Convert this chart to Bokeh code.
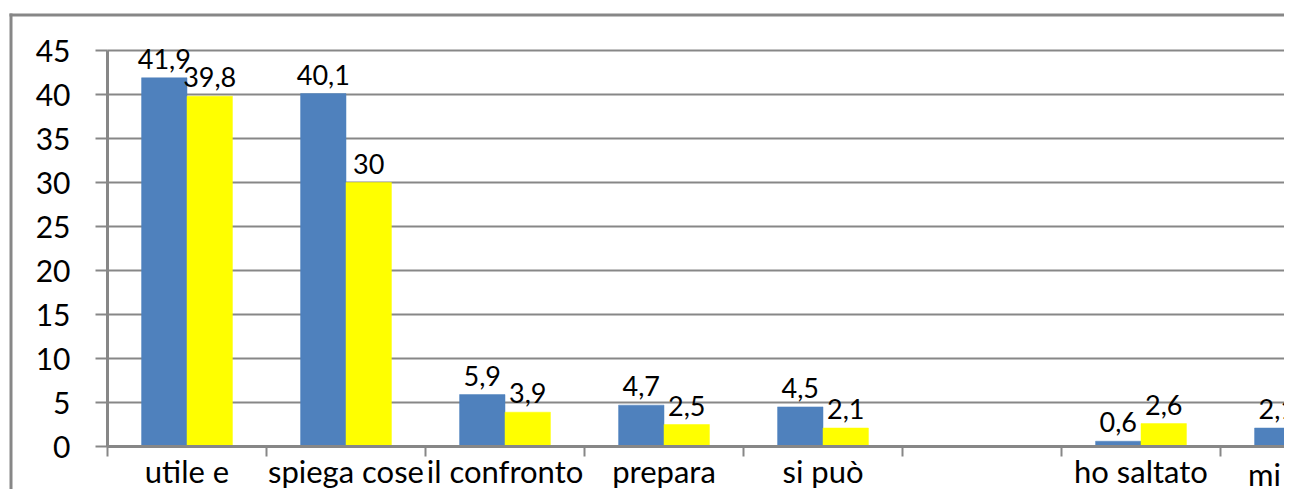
import math
from bokeh.plotting import figure
from bokeh.models import ColumnDataSource, FixedTicker, Range1d, BoxAnnotation
from bokeh.embed import file_html
from bokeh.resources import INLINE
from bokeh.core.properties import value

# ---- data ----
categories = ["utile e", "spiega cose", "il confronto", "prepara", "si può", "", "ho saltato", "mi s"]
serie_blu = [41.9, 40.1, 5.9, 4.7, 4.5, float("nan"), 0.6, 2.1]
serie_gialla = [39.8, 30.0, 3.9, 2.5, 2.1, float("nan"), 2.6, float("nan")]
y_ticks = [0, 5, 10, 15, 20, 25, 30, 35, 40, 45]

BLUE = "#4F81BD"
YELLOW = "#FFFF00"
GRID = "#878787"
FONT = "Lato"

W, H = 1284, 489
n = len(categories)
BAR_W = 2.0 / 7.0      # Excel gap width 150%
centers = [i + 0.5 for i in range(n)]

# visible window of the (cropped) chart, in data units
X0, X1 = -0.6730, 7.4025
Y0, Y1 = -4.886, 50.682


def fmt(v):
    return "{:g}".format(v).replace(".", ",")


def series_source(vals, shift):
    xs, tops, labels = [], [], []
    for c, v in zip(centers, vals):
        if v is None or (isinstance(v, float) and math.isnan(v)):
            continue
        xs.append(c + shift)
        tops.append(v)
        labels.append(fmt(v))
    return ColumnDataSource(dict(x=xs, top=tops, label=labels))


src_b = series_source(serie_blu, -BAR_W / 2)
src_y = series_source(serie_gialla, BAR_W / 2)

p = figure(width=W, height=H, output_backend="svg", toolbar_location=None,
           x_range=Range1d(X0, X1), y_range=Range1d(Y0, Y1),
           min_border=0, styles={"margin-bottom": "-8px"})

p.outline_line_color = None
p.background_fill_color = "white"
p.border_fill_color = "white"
p.xgrid.visible = False
p.ygrid.visible = False

# horizontal gridlines (behind the bars)
p.segment(x0=0, x1=X1 + 1, y0=y_ticks, y1=y_ticks, line_color=GRID, line_width=2,
          level="underlay")

p.vbar(x="x", top="top", bottom=0, width=BAR_W, source=src_b,
       fill_color=BLUE, line_color=BLUE, line_width=0.5)
p.vbar(x="x", top="top", bottom=0, width=BAR_W, source=src_y,
       fill_color=YELLOW, line_color=YELLOW, line_width=0.5)

for src in (src_b, src_y):
    p.text(x="x", y="top", text="label", source=src,
           text_font=value(FONT), text_font_size="27px", text_color="black",
           text_align="center", text_baseline="alphabetic", y_offset=-19)

# y axis
ya = p.yaxis[0]
ya.fixed_location = 0
ya.ticker = FixedTicker(ticks=y_ticks)
ya.bounds = (0, 45)
ya.axis_line_color = GRID
ya.axis_line_width = 3
ya.major_tick_line_color = GRID
ya.major_tick_line_width = 2
ya.major_tick_in = 0
ya.major_tick_out = 12
ya.minor_tick_line_color = None
ya.major_label_text_font = FONT
ya.major_label_text_font_size = "30px"
ya.major_label_text_color = "black"
ya.major_label_standoff = 25

# x axis
xa = p.xaxis[0]
xa.fixed_location = 0
xa.bounds = (0, X1)
xa.ticker = FixedTicker(ticks=centers, minor_ticks=list(range(n + 1)))
xa.major_label_overrides = {c: lab for c, lab in zip(centers, categories)}
xa.axis_line_color = GRID
xa.axis_line_width = 3
xa.major_tick_line_color = None
xa.major_tick_in = 0
xa.major_tick_out = 0
xa.minor_tick_line_color = GRID
xa.minor_tick_line_width = 2
xa.minor_tick_in = 0
xa.minor_tick_out = 10
xa.major_label_text_font = FONT
xa.major_label_text_font_size = "31px"
xa.major_label_text_color = "black"
xa.major_label_standoff = -5

# last category label: its centre lies past the visible end of the axis
p.text(x=[centers[-1]], y=[0], text=[categories[-1]], x_offset=-52, y_offset=27,
       text_font=value(FONT), text_font_size="31px", text_color="black",
       text_align="left", text_baseline="alphabetic")

# chart area border (only its top and left edges are visible)
p.add_layout(BoxAnnotation(left=9, right=12, top=13, bottom=H + 50,
                           left_units="canvas", top_units="canvas",
                           right_units="canvas", bottom_units="canvas",
                           fill_color=GRID, fill_alpha=1, line_color=None))
p.add_layout(BoxAnnotation(left=9, right=W + 50, top=13, bottom=16,
                           left_units="canvas", top_units="canvas",
                           right_units="canvas", bottom_units="canvas",
                           fill_color=GRID, fill_alpha=1, line_color=None))

open("out.html", "w").write(file_html(p, INLINE))
